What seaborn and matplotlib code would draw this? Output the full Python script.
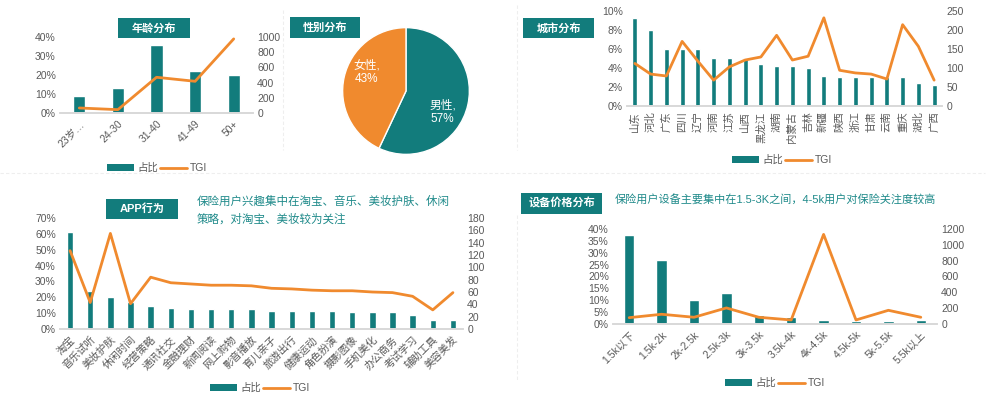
import matplotlib
matplotlib.use("Agg")
import matplotlib.pyplot as plt
import numpy as np
import seaborn as sns
from matplotlib.lines import Line2D
from matplotlib.patches import Patch, Rectangle

TEAL = "#127c7c"
ORANGE = "#f08a2e"
GRAY = "#595959"
W, H = 988, 397

AGE_LABELS = ["23岁…", "24-30", "31-40", "41-49", "50+"]
AGE_SHARE = [9, 13, 36, 22, 20]
AGE_TGI = [66, 44, 470, 417, 975]

GENDER_LABELS = ["男性", "女性"]
GENDER_SHARE = [57, 43]

CITY_LABELS = ["山东", "河北", "广东", "四川", "辽宁", "河南", "江苏", "山西", "黑龙江", "湖南",
               "内蒙古", "吉林", "新疆", "陕西", "浙江", "甘肃", "云南", "重庆", "湖北", "广西"]
CITY_SHARE = [9.3, 8.0, 6.0, 6.0, 6.0, 5.0, 5.0, 5.0, 4.4, 4.2,
              4.2, 4.0, 3.2, 3.1, 3.0, 3.0, 3.0, 3.0, 2.4, 2.2]
CITY_TGI = [112, 84, 79, 170, 118, 68, 103, 121, 129, 186,
            121, 131, 232, 94, 87, 84, 71, 214, 157, 68]

APP_LABELS = ["淘宝", "音乐试听", "美妆护肤", "休闲时间", "经营策略", "通讯社交", "金融理财", "新闻阅读",
              "网上购物", "影音播放", "育儿亲子", "旅游出行", "健康运动", "角色扮演", "摄影图像",
              "手机美化", "办公商务", "考试学习", "辅助工具", "美容美发"]
APP_SHARE = [61.1, 24.0, 20.2, 16.9, 14.3, 13.1, 12.6, 12.4, 12.4, 12.4,
             11.4, 11.4, 11.4, 11.4, 10.5, 10.5, 10.5, 8.9, 5.7, 5.5]
APP_TGI = [127, 43, 155, 41, 84, 75, 73, 71, 71, 70,
           66, 65, 63, 62, 62, 60, 59, 53, 31, 59]

PRICE_LABELS = ["1.5k以下", "1.5k-2k", "2k-2.5k", "2.5k-3k", "3k-3.5k",
                "3.5k-4k", "4k-4.5k", "4.5k-5k", "5k-5.5k", "5.5k以上"]
PRICE_SHARE = [37.5, 26.9, 9.9, 13.1, 3.9, 2.8, 1.8, 1.1, 1.1, 1.5]
PRICE_TGI = [80, 123, 85, 203, 85, 51, 1132, 51, 173, 85]

APP_NOTE = "保险用户兴趣集中在淘宝、音乐、美妆护肤、休闲\n策略，对淘宝、美妆较为关注"
PRICE_NOTE = "保险用户设备主要集中在1.5-3K之间，4-5k用户对保险关注度较高"


def rect(x0, y0, x1, y1):
    return [x0 / W, 1 - y1 / H, (x1 - x0) / W, (y1 - y0) / H]


def title_box(fig, text, x0, y0, x1, y1):
    fig.add_artist(Rectangle((x0 / W, 1 - y1 / H), (x1 - x0) / W, (y1 - y0) / H,
                             transform=fig.transFigure, facecolor=TEAL, edgecolor="none"))
    fig.text((x0 + x1) / 2 / W, 1 - (y0 + y1) / 2 / H, text, color="white", fontsize=8,
             fontweight="bold", ha="center", va="center")


def add_legend(fig, cx, cy):
    handles = [Patch(facecolor=TEAL, edgecolor="none"), Line2D([], [], color=ORANGE, lw=2)]
    fig.legend(handles, ["占比", "TGI"], loc="center", bbox_to_anchor=(cx / W, 1 - cy / H),
               ncol=2, frameon=False, fontsize=7.5, handlelength=2.6, handleheight=0.6,
               handletextpad=0.3, columnspacing=0.2, labelcolor=GRAY)


def combo(fig, box, labels, share, tgi, ymax, ystep, rmax, rstep, rotation, width=0.32):
    ax = fig.add_axes(rect(*box))
    n = len(labels)
    sns.barplot(x=np.arange(n), y=share, color=TEAL, saturation=1, width=width, ax=ax)
    ax.set_xlim(-0.5, n - 0.5)
    ax.set_ylim(0, ymax)
    ax.set_yticks(np.arange(0, ymax + 0.01, ystep))
    ax.set_yticklabels([f"{v:.0f}%" for v in np.arange(0, ymax + 0.01, ystep)])
    ax.set_xticks(np.arange(n))
    if rotation == 90:
        ax.set_xticklabels(labels, rotation=90, ha="center", va="top")
    else:
        ax.set_xticklabels(labels, rotation=rotation, ha="right", va="top", rotation_mode="anchor")
    ax2 = ax.twinx()
    sns.lineplot(x=np.arange(n), y=tgi, color=ORANGE, lw=2, sort=False, ax=ax2)
    ax2.set_ylim(0, rmax)
    ax2.set_yticks(np.arange(0, rmax + 1, rstep))
    for a in (ax, ax2):
        a.set_xlabel("")
        a.set_ylabel("")
        a.grid(False)
        for s in ("top", "left", "right"):
            a.spines[s].set_visible(False)
        a.spines["bottom"].set_color("#d9d9d9")
        a.tick_params(length=0, labelsize=7.5, colors=GRAY, pad=3)
        a.patch.set_alpha(0)
    ax.tick_params(axis="x", pad=4)
    return ax, ax2


sns.set_theme(style="white")
plt.rcParams["font.family"] = ["Liberation Sans", "Noto Sans CJK SC", "DejaVu Sans"]

fig = plt.figure(figsize=(W / 100, H / 100), dpi=100)
fig.patch.set_facecolor("white")

# faint dashed separators
for x0, y0, x1, y1 in [(0, 173, 985, 173), (517, 5, 517, 150), (283, 10, 283, 150), (517, 215, 517, 380)]:
    fig.add_artist(Line2D([x0 / W, x1 / W], [1 - y0 / H, 1 - y1 / H], transform=fig.transFigure,
                          color="#eeeeee", lw=0.8, ls=(0, (3, 2))))

combo(fig, (60, 37, 253, 113), AGE_LABELS, AGE_SHARE, AGE_TGI, 40, 10, 1000, 200, 45)
title_box(fig, "年龄分布", 118, 18, 190, 38)
add_legend(fig, 157, 168)

ax_pie = fig.add_axes(rect(342, 27, 470, 155))
ax_pie.pie(GENDER_SHARE, colors=[TEAL, ORANGE], startangle=90, counterclock=False,
           wedgeprops=dict(edgecolor="white", linewidth=1))
ax_pie.set_xlim(-1.01, 1.01)
ax_pie.set_ylim(-1.01, 1.01)
ax_pie.set_aspect("equal")
ax_pie.axis("off")
ax_pie.text(0.58, -0.33, f"{GENDER_LABELS[0]},\n{GENDER_SHARE[0]}%", color="white", fontsize=8.5,
            ha="center", va="center", linespacing=1.2)
ax_pie.text(-0.62, 0.3, f"{GENDER_LABELS[1]},\n{GENDER_SHARE[1]}%", color="white", fontsize=8.5,
            ha="center", va="center", linespacing=1.2)
title_box(fig, "性别分布", 290, 17, 360, 38)

combo(fig, (627, 11, 942, 106), CITY_LABELS, CITY_SHARE, CITY_TGI, 10, 2, 250, 50, 90)
title_box(fig, "城市分布", 523, 18, 594, 38)
add_legend(fig, 782, 160)

combo(fig, (60, 218, 463, 329), APP_LABELS, APP_SHARE, APP_TGI, 70, 10, 180, 20, 45)
title_box(fig, "APP行为", 106, 199, 178, 219)
fig.text(197 / W, 1 - 196 / H, APP_NOTE, color="#1f8a8a", fontsize=8.3, ha="left", va="top",
         linespacing=1.6)
add_legend(fig, 260, 388)

combo(fig, (613, 229, 937, 324), PRICE_LABELS, PRICE_SHARE, PRICE_TGI, 40, 5, 1200, 200, 45)
title_box(fig, "设备价格分布", 521, 193, 602, 214)
fig.text(615 / W, 1 - 200 / H, PRICE_NOTE, color="#1f8a8a", fontsize=8, ha="left", va="center")
add_legend(fig, 775, 383)

fig.savefig("out.png", dpi=100)
